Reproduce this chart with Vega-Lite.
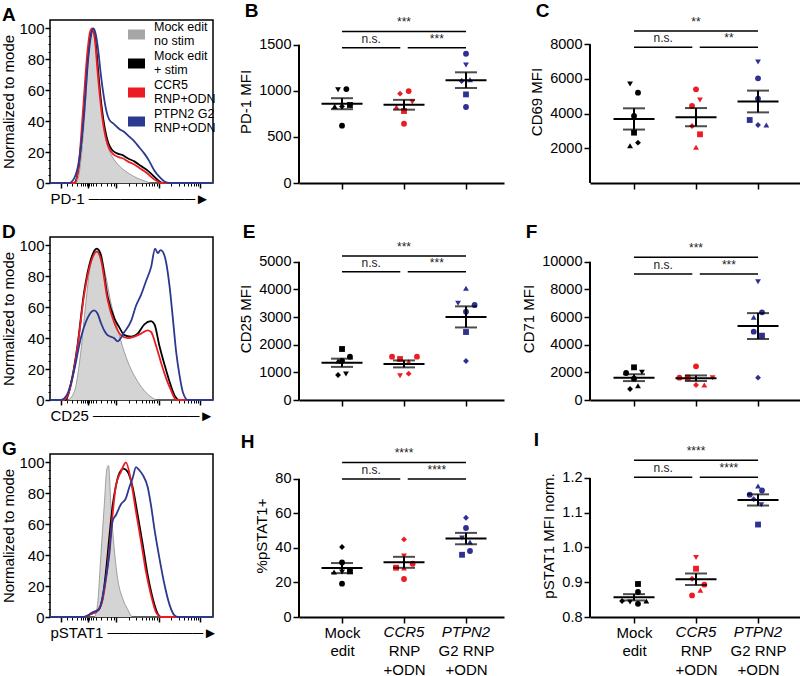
{
"$schema": "https://vega.github.io/schema/vega-lite/v6.json",
"padding": {"left": 1, "top": 1, "right": 0, "bottom": 0},
"background": "white",
"config": {
  "font": "Liberation Sans",
  "view": {"stroke": null},
  "axis": {"labelColor": "black", "titleColor": "black", "tickColor": "black", "domainColor": "black", "titleFontWeight": "normal", "grid": false, "labelFontSize": 15, "titleFontSize": 15, "labelOverlap": false},
  "title": {"anchor": "start", "frame": "bounds", "fontSize": 19, "fontWeight": "bold", "offset": -5, "color": "black"}
},
"datasets": {
  "hA": [
    {"s":"nostim","x":148,"y":0},{"s":"nostim","x":225,"y":0},{"s":"nostim","x":235,"y":6},{"s":"nostim","x":245,"y":25},{"s":"nostim","x":255,"y":55},{"s":"nostim","x":263,"y":82},{"s":"nostim","x":270,"y":96},{"s":"nostim","x":276,"y":100},{"s":"nostim","x":283,"y":93},{"s":"nostim","x":290,"y":75},{"s":"nostim","x":298,"y":55},{"s":"nostim","x":306,"y":40},{"s":"nostim","x":315,"y":28},{"s":"nostim","x":325,"y":21},{"s":"nostim","x":340,"y":15},{"s":"nostim","x":360,"y":10},{"s":"nostim","x":385,"y":6},{"s":"nostim","x":410,"y":3},{"s":"nostim","x":435,"y":1},{"s":"nostim","x":450,"y":0},{"s":"nostim","x":635,"y":0},
    {"s":"stim","x":148,"y":0},{"s":"stim","x":220,"y":0},{"s":"stim","x":232,"y":8},{"s":"stim","x":245,"y":35},{"s":"stim","x":257,"y":72},{"s":"stim","x":267,"y":93},{"s":"stim","x":276,"y":99},{"s":"stim","x":284,"y":92},{"s":"stim","x":293,"y":70},{"s":"stim","x":302,"y":50},{"s":"stim","x":312,"y":35},{"s":"stim","x":322,"y":26},{"s":"stim","x":335,"y":21},{"s":"stim","x":350,"y":19},{"s":"stim","x":365,"y":18},{"s":"stim","x":380,"y":16},{"s":"stim","x":400,"y":14},{"s":"stim","x":420,"y":11},{"s":"stim","x":440,"y":8},{"s":"stim","x":455,"y":5},{"s":"stim","x":470,"y":2},{"s":"stim","x":485,"y":0},{"s":"stim","x":635,"y":0},
    {"s":"ccr5","x":148,"y":0},{"s":"ccr5","x":222,"y":0},{"s":"ccr5","x":234,"y":12},{"s":"ccr5","x":247,"y":48},{"s":"ccr5","x":259,"y":83},{"s":"ccr5","x":268,"y":98},{"s":"ccr5","x":274,"y":100},{"s":"ccr5","x":282,"y":93},{"s":"ccr5","x":291,"y":70},{"s":"ccr5","x":300,"y":50},{"s":"ccr5","x":310,"y":34},{"s":"ccr5","x":320,"y":25},{"s":"ccr5","x":335,"y":19},{"s":"ccr5","x":350,"y":17},{"s":"ccr5","x":365,"y":16},{"s":"ccr5","x":380,"y":14},{"s":"ccr5","x":400,"y":12},{"s":"ccr5","x":420,"y":9},{"s":"ccr5","x":440,"y":6},{"s":"ccr5","x":455,"y":3},{"s":"ccr5","x":470,"y":1},{"s":"ccr5","x":480,"y":0},{"s":"ccr5","x":635,"y":0},
    {"s":"ptpn2","x":148,"y":0},{"s":"ptpn2","x":205,"y":0},{"s":"ptpn2","x":220,"y":3},{"s":"ptpn2","x":235,"y":15},{"s":"ptpn2","x":250,"y":45},{"s":"ptpn2","x":262,"y":80},{"s":"ptpn2","x":272,"y":97},{"s":"ptpn2","x":278,"y":100},{"s":"ptpn2","x":285,"y":96},{"s":"ptpn2","x":292,"y":86},{"s":"ptpn2","x":300,"y":70},{"s":"ptpn2","x":308,"y":57},{"s":"ptpn2","x":316,"y":47},{"s":"ptpn2","x":325,"y":41},{"s":"ptpn2","x":340,"y":38},{"s":"ptpn2","x":355,"y":35},{"s":"ptpn2","x":370,"y":33},{"s":"ptpn2","x":385,"y":30},{"s":"ptpn2","x":400,"y":27},{"s":"ptpn2","x":415,"y":23},{"s":"ptpn2","x":430,"y":19},{"s":"ptpn2","x":445,"y":14},{"s":"ptpn2","x":460,"y":8},{"s":"ptpn2","x":475,"y":4},{"s":"ptpn2","x":490,"y":1},{"s":"ptpn2","x":505,"y":0},{"s":"ptpn2","x":635,"y":0}
  ],
  "hD": [
    {"s":"nostim","x":148,"y":0},{"s":"nostim","x":200,"y":0},{"s":"nostim","x":220,"y":5},{"s":"nostim","x":240,"y":31},{"s":"nostim","x":255,"y":63},{"s":"nostim","x":270,"y":89},{"s":"nostim","x":285,"y":98},{"s":"nostim","x":292,"y":97},{"s":"nostim","x":300,"y":93},{"s":"nostim","x":310,"y":85},{"s":"nostim","x":330,"y":63},{"s":"nostim","x":350,"y":46},{"s":"nostim","x":370,"y":31},{"s":"nostim","x":390,"y":20},{"s":"nostim","x":410,"y":12},{"s":"nostim","x":430,"y":6},{"s":"nostim","x":450,"y":2},{"s":"nostim","x":470,"y":0},{"s":"nostim","x":635,"y":0},
    {"s":"stim","x":148,"y":0},{"s":"stim","x":195,"y":0},{"s":"stim","x":210,"y":10},{"s":"stim","x":230,"y":35},{"s":"stim","x":250,"y":70},{"s":"stim","x":270,"y":91},{"s":"stim","x":288,"y":98},{"s":"stim","x":300,"y":94},{"s":"stim","x":320,"y":67},{"s":"stim","x":340,"y":53},{"s":"stim","x":355,"y":47},{"s":"stim","x":370,"y":42},{"s":"stim","x":390,"y":41},{"s":"stim","x":410,"y":43},{"s":"stim","x":430,"y":49},{"s":"stim","x":450,"y":51},{"s":"stim","x":460,"y":49},{"s":"stim","x":475,"y":35},{"s":"stim","x":490,"y":23},{"s":"stim","x":505,"y":12},{"s":"stim","x":520,"y":3},{"s":"stim","x":535,"y":0},{"s":"stim","x":635,"y":0},
    {"s":"ccr5","x":148,"y":0},{"s":"ccr5","x":190,"y":0},{"s":"ccr5","x":210,"y":9},{"s":"ccr5","x":230,"y":34},{"s":"ccr5","x":250,"y":68},{"s":"ccr5","x":270,"y":89},{"s":"ccr5","x":288,"y":96},{"s":"ccr5","x":300,"y":91},{"s":"ccr5","x":320,"y":65},{"s":"ccr5","x":340,"y":50},{"s":"ccr5","x":360,"y":42},{"s":"ccr5","x":380,"y":40},{"s":"ccr5","x":400,"y":41},{"s":"ccr5","x":420,"y":43},{"s":"ccr5","x":440,"y":45},{"s":"ccr5","x":450,"y":44},{"s":"ccr5","x":465,"y":35},{"s":"ccr5","x":480,"y":24},{"s":"ccr5","x":495,"y":14},{"s":"ccr5","x":510,"y":6},{"s":"ccr5","x":525,"y":0},{"s":"ccr5","x":635,"y":0},
    {"s":"ptpn2","x":148,"y":0},{"s":"ptpn2","x":180,"y":0},{"s":"ptpn2","x":200,"y":4},{"s":"ptpn2","x":220,"y":19},{"s":"ptpn2","x":240,"y":40},{"s":"ptpn2","x":260,"y":53},{"s":"ptpn2","x":280,"y":58},{"s":"ptpn2","x":290,"y":56},{"s":"ptpn2","x":300,"y":50},{"s":"ptpn2","x":310,"y":45},{"s":"ptpn2","x":320,"y":42},{"s":"ptpn2","x":340,"y":40},{"s":"ptpn2","x":350,"y":38},{"s":"ptpn2","x":370,"y":44},{"s":"ptpn2","x":390,"y":51},{"s":"ptpn2","x":405,"y":61},{"s":"ptpn2","x":420,"y":68},{"s":"ptpn2","x":435,"y":77},{"s":"ptpn2","x":450,"y":86},{"s":"ptpn2","x":462,"y":98},{"s":"ptpn2","x":470,"y":95},{"s":"ptpn2","x":478,"y":97},{"s":"ptpn2","x":485,"y":96},{"s":"ptpn2","x":495,"y":89},{"s":"ptpn2","x":505,"y":74},{"s":"ptpn2","x":515,"y":53},{"s":"ptpn2","x":525,"y":31},{"s":"ptpn2","x":535,"y":16},{"s":"ptpn2","x":545,"y":5},{"s":"ptpn2","x":560,"y":0},{"s":"ptpn2","x":635,"y":0}
  ],
  "hG": [
    {"s":"nostim","x":148,"y":0},{"s":"nostim","x":280,"y":0},{"s":"nostim","x":290,"y":8},{"s":"nostim","x":300,"y":40},{"s":"nostim","x":310,"y":72},{"s":"nostim","x":318,"y":96},{"s":"nostim","x":323,"y":98},{"s":"nostim","x":330,"y":72},{"s":"nostim","x":340,"y":44},{"s":"nostim","x":350,"y":25},{"s":"nostim","x":365,"y":12},{"s":"nostim","x":380,"y":5},{"s":"nostim","x":395,"y":0},{"s":"nostim","x":635,"y":0},
    {"s":"stim","x":148,"y":0},{"s":"stim","x":250,"y":0},{"s":"stim","x":270,"y":2},{"s":"stim","x":290,"y":4},{"s":"stim","x":305,"y":12},{"s":"stim","x":315,"y":29},{"s":"stim","x":325,"y":51},{"s":"stim","x":335,"y":72},{"s":"stim","x":345,"y":85},{"s":"stim","x":355,"y":93},{"s":"stim","x":368,"y":96},{"s":"stim","x":380,"y":94},{"s":"stim","x":395,"y":84},{"s":"stim","x":410,"y":66},{"s":"stim","x":425,"y":47},{"s":"stim","x":440,"y":27},{"s":"stim","x":455,"y":12},{"s":"stim","x":470,"y":2},{"s":"stim","x":480,"y":0},{"s":"stim","x":635,"y":0},
    {"s":"ccr5","x":148,"y":0},{"s":"ccr5","x":250,"y":0},{"s":"ccr5","x":270,"y":2},{"s":"ccr5","x":290,"y":4},{"s":"ccr5","x":305,"y":11},{"s":"ccr5","x":320,"y":33},{"s":"ccr5","x":330,"y":55},{"s":"ccr5","x":345,"y":85},{"s":"ccr5","x":360,"y":94},{"s":"ccr5","x":375,"y":100},{"s":"ccr5","x":390,"y":88},{"s":"ccr5","x":405,"y":68},{"s":"ccr5","x":420,"y":49},{"s":"ccr5","x":435,"y":29},{"s":"ccr5","x":450,"y":14},{"s":"ccr5","x":465,"y":3},{"s":"ccr5","x":480,"y":0},{"s":"ccr5","x":635,"y":0},
    {"s":"ptpn2","x":148,"y":0},{"s":"ptpn2","x":250,"y":0},{"s":"ptpn2","x":275,"y":3},{"s":"ptpn2","x":295,"y":5},{"s":"ptpn2","x":310,"y":19},{"s":"ptpn2","x":325,"y":40},{"s":"ptpn2","x":335,"y":62},{"s":"ptpn2","x":345,"y":66},{"s":"ptpn2","x":360,"y":73},{"s":"ptpn2","x":375,"y":77},{"s":"ptpn2","x":385,"y":84},{"s":"ptpn2","x":395,"y":90},{"s":"ptpn2","x":405,"y":97},{"s":"ptpn2","x":415,"y":95},{"s":"ptpn2","x":425,"y":92},{"s":"ptpn2","x":440,"y":84},{"s":"ptpn2","x":450,"y":72},{"s":"ptpn2","x":460,"y":57},{"s":"ptpn2","x":475,"y":38},{"s":"ptpn2","x":490,"y":21},{"s":"ptpn2","x":505,"y":8},{"s":"ptpn2","x":520,"y":1},{"s":"ptpn2","x":530,"y":0},{"s":"ptpn2","x":635,"y":0}
  ],
  "pB": [
    {"g":1,"xp":0.936,"v":1012,"s":"d"},{"g":1,"xp":1.07,"v":1019,"s":"c"},{"g":1,"xp":0.882,"v":831,"s":"u"},{"g":1,"xp":1.0,"v":831,"s":"m"},{"g":1,"xp":1.128,"v":846,"s":"s"},{"g":1,"xp":1.0,"v":622,"s":"c"},
    {"g":2,"xp":1.936,"v":969,"s":"m"},{"g":2,"xp":2.075,"v":997,"s":"c"},{"g":2,"xp":1.877,"v":824,"s":"u"},{"g":2,"xp":2.0,"v":781,"s":"s"},{"g":2,"xp":2.134,"v":878,"s":"d"},{"g":2,"xp":2.0,"v":643,"s":"c"},
    {"g":3,"xp":3.0,"v":1402,"s":"c"},{"g":3,"xp":3.0,"v":1279,"s":"d"},{"g":3,"xp":2.93,"v":1106,"s":"m"},{"g":3,"xp":3.064,"v":1120,"s":"u"},{"g":3,"xp":3.0,"v":961,"s":"s"},{"g":3,"xp":3.0,"v":824,"s":"c"}
  ],
  "pC": [
    {"g":1,"xp":0.936,"v":5711,"s":"d"},{"g":1,"xp":1.064,"v":5211,"s":"c"},{"g":1,"xp":1.0,"v":3865,"s":"c"},{"g":1,"xp":1.0,"v":2904,"s":"s"},{"g":1,"xp":0.936,"v":2154,"s":"u"},{"g":1,"xp":1.064,"v":2327,"s":"m"},
    {"g":2,"xp":2.0,"v":5404,"s":"c"},{"g":2,"xp":2.064,"v":4788,"s":"d"},{"g":2,"xp":1.936,"v":4442,"s":"c"},{"g":2,"xp":1.936,"v":3288,"s":"m"},{"g":2,"xp":2.064,"v":2808,"s":"s"},{"g":2,"xp":2.0,"v":2058,"s":"u"},
    {"g":3,"xp":3.0,"v":6981,"s":"d"},{"g":3,"xp":3.0,"v":6038,"s":"c"},{"g":3,"xp":3.0,"v":4865,"s":"c"},{"g":3,"xp":2.866,"v":3634,"s":"s"},{"g":3,"xp":3.0,"v":3346,"s":"m"},{"g":3,"xp":3.134,"v":3346,"s":"u"}
  ],
  "pE": [
    {"g":1,"xp":1.0,"v":1844,"s":"s"},{"g":1,"xp":1.128,"v":1566,"s":"c"},{"g":1,"xp":0.936,"v":1410,"s":"u"},{"g":1,"xp":1.0,"v":1410,"s":"c"},{"g":1,"xp":0.936,"v":904,"s":"m"},{"g":1,"xp":1.064,"v":940,"s":"d"},
    {"g":2,"xp":1.807,"v":1566,"s":"c"},{"g":2,"xp":1.936,"v":1482,"s":"s"},{"g":2,"xp":2.075,"v":1386,"s":"u"},{"g":2,"xp":2.209,"v":1566,"s":"c"},{"g":2,"xp":1.936,"v":880,"s":"d"},{"g":2,"xp":2.075,"v":952,"s":"m"},
    {"g":3,"xp":3.0,"v":4037,"s":"u"},{"g":3,"xp":2.872,"v":3495,"s":"d"},{"g":3,"xp":3.139,"v":3434,"s":"c"},{"g":3,"xp":3.0,"v":3193,"s":"c"},{"g":3,"xp":3.0,"v":2458,"s":"s"},{"g":3,"xp":3.0,"v":1410,"s":"m"}
  ],
  "pF": [
    {"g":1,"xp":1.0,"v":2362,"s":"s"},{"g":1,"xp":0.872,"v":1952,"s":"c"},{"g":1,"xp":1.128,"v":2000,"s":"d"},{"g":1,"xp":1.0,"v":1545,"s":"c"},{"g":1,"xp":1.064,"v":1036,"s":"u"},{"g":1,"xp":0.936,"v":795,"s":"m"},
    {"g":2,"xp":2.0,"v":2434,"s":"c"},{"g":2,"xp":1.866,"v":1615,"s":"s"},{"g":2,"xp":1.733,"v":1615,"s":"c"},{"g":2,"xp":2.267,"v":1615,"s":"d"},{"g":2,"xp":2.0,"v":1085,"s":"m"},{"g":2,"xp":2.134,"v":1085,"s":"u"},
    {"g":3,"xp":3.0,"v":8556,"s":"d"},{"g":3,"xp":3.064,"v":6338,"s":"c"},{"g":3,"xp":2.93,"v":5977,"s":"u"},{"g":3,"xp":2.93,"v":4941,"s":"c"},{"g":3,"xp":3.064,"v":4651,"s":"s"},{"g":3,"xp":3.0,"v":1615,"s":"m"}
  ],
  "pH": [
    {"g":1,"xp":1.0,"v":40.5,"s":"m"},{"g":1,"xp":1.0,"v":31.6,"s":"c"},{"g":1,"xp":0.872,"v":26,"s":"u"},{"g":1,"xp":1.0,"v":26,"s":"d"},{"g":1,"xp":1.128,"v":26.4,"s":"s"},{"g":1,"xp":1.0,"v":19.3,"s":"c"},
    {"g":2,"xp":2.0,"v":44.9,"s":"m"},{"g":2,"xp":2.0,"v":35.3,"s":"d"},{"g":2,"xp":1.872,"v":28.5,"s":"s"},{"g":2,"xp":2.139,"v":30.8,"s":"c"},{"g":2,"xp":2.0,"v":28.3,"s":"u"},{"g":2,"xp":2.0,"v":22,"s":"c"},
    {"g":3,"xp":3.0,"v":57.4,"s":"m"},{"g":3,"xp":3.0,"v":51.5,"s":"c"},{"g":3,"xp":2.936,"v":45.7,"s":"d"},{"g":3,"xp":3.064,"v":43.4,"s":"u"},{"g":3,"xp":3.064,"v":38.2,"s":"c"},{"g":3,"xp":2.936,"v":36,"s":"s"}
  ],
  "pI": [
    {"g":1,"xp":1.064,"v":0.895,"s":"s"},{"g":1,"xp":1.064,"v":0.872,"s":"c"},{"g":1,"xp":0.807,"v":0.846,"s":"m"},{"g":1,"xp":0.936,"v":0.843,"s":"d"},{"g":1,"xp":1.064,"v":0.838,"s":"c"},{"g":1,"xp":1.198,"v":0.846,"s":"u"},
    {"g":2,"xp":2.0,"v":0.971,"s":"d"},{"g":2,"xp":2.0,"v":0.939,"s":"s"},{"g":2,"xp":1.936,"v":0.91,"s":"m"},{"g":2,"xp":2.134,"v":0.893,"s":"c"},{"g":2,"xp":2.07,"v":0.877,"s":"u"},{"g":2,"xp":1.936,"v":0.862,"s":"c"},
    {"g":3,"xp":3.0,"v":1.177,"s":"u"},{"g":3,"xp":3.064,"v":1.164,"s":"c"},{"g":3,"xp":2.866,"v":1.152,"s":"c"},{"g":3,"xp":3.053,"v":1.123,"s":"d"},{"g":3,"xp":2.93,"v":1.139,"s":"m"},{"g":3,"xp":3.0,"v":1.066,"s":"s"}
  ],
  "sB": [{"x1":1,"x2":3,"xm":2,"y":1644,"lab":"***"},{"x1":1,"x2":1.94,"xm":1.47,"y":1467,"lab":"n.s."},{"x1":2.06,"x2":3,"xm":2.53,"y":1467,"lab":"***"}],
  "sC": [{"x1":1,"x2":3,"xm":2,"y":8769,"lab":"**"},{"x1":1,"x2":1.94,"xm":1.47,"y":7827,"lab":"n.s."},{"x1":2.06,"x2":3,"xm":2.53,"y":7827,"lab":"**"}],
  "sE": [{"x1":1,"x2":3,"xm":2,"y":5206,"lab":"***"},{"x1":1,"x2":1.94,"xm":1.47,"y":4639,"lab":"n.s."},{"x1":2.06,"x2":3,"xm":2.53,"y":4639,"lab":"***"}],
  "sF": [{"x1":1,"x2":3,"xm":2,"y":10315,"lab":"***"},{"x1":1,"x2":1.94,"xm":1.47,"y":9110,"lab":"n.s."},{"x1":2.06,"x2":3,"xm":2.53,"y":9110,"lab":"***"}],
  "sH": [{"x1":1,"x2":3,"xm":2,"y":89.4,"lab":"****"},{"x1":1,"x2":1.94,"xm":1.47,"y":79.8,"lab":"n.s."},{"x1":2.06,"x2":3,"xm":2.53,"y":79.8,"lab":"****"}],
  "sI": [{"x1":1,"x2":3,"xm":2,"y":1.251,"lab":"****"},{"x1":1,"x2":1.94,"xm":1.47,"y":1.202,"lab":"n.s."},{"x1":2.06,"x2":3,"xm":2.53,"y":1.202,"lab":"****"}],
  "ital": [{"g":2,"t":"CCR5"},{"g":3,"t":"PTPN2"}]
},
"columns": 3,
"align": "each",
"bounds": "flush",
"spacing": {"row": 54, "column": 86},
"resolve": {"scale": {"color": "independent", "shape": "independent"}, "legend": {"color": "independent", "shape": "independent"}},
"concat": [
  {
    "width": 163, "height": 163, "title": "A",
    "view": {"stroke": "black", "strokeWidth": 1.5},
    "resolve": {"axis": {"x": "independent", "y": "independent"}},
    "layer": [
      {"data": {"name": "hA"}, "transform": [{"filter": "datum.s == 'nostim'"}],
       "mark": {"type": "area", "color": "#d4d4d4", "interpolate": "monotone"},
       "encoding": {
         "x": {"field": "x", "type": "quantitative", "scale": {"domain": [148, 635], "nice": false, "zero": false}, "axis": {"orient": "bottom", "values": [180, 262, 345, 473, 597], "tickCount": 50, "labels": false, "tickSize": 5, "tickWidth": 1.5, "domain": false, "title": "PD-1 ──────────►", "titleAnchor": "start", "titlePadding": 3}},
         "y": {"field": "y", "type": "quantitative", "scale": {"domain": [0, 105.5], "nice": false, "zero": false}, "axis": {"orient": "left", "values": [0, 20, 40, 60, 80, 100], "tickCount": 50, "tickSize": 5, "tickWidth": 1.5, "domain": false, "labelPadding": 1, "title": "Normalized to mode", "titlePadding": 2}}
       }},
      {"data": {"name": "hA"}, "transform": [{"filter": "datum.s == 'nostim'"}],
       "mark": {"type": "line", "color": "#8c8c8c", "strokeWidth": 0.8, "interpolate": "monotone"},
       "encoding": {
         "x": {"field": "x", "type": "quantitative", "axis": {"orient": "bottom", "values": [200, 215, 228, 240, 248, 254, 258, 266, 270, 276, 284, 300, 318, 330, 338, 384, 406, 422, 434, 445, 453, 460, 467, 510, 532, 548, 560, 570, 578, 585, 591], "tickCount": 50, "labels": false, "tickSize": 3, "tickWidth": 1, "domain": false, "title": null}},
         "y": {"field": "y", "type": "quantitative", "axis": {"orient": "left", "values": [5, 10, 15, 25, 30, 35, 45, 50, 55, 65, 70, 75, 85, 90, 95], "tickCount": 50, "labels": false, "tickSize": 2, "tickWidth": 1, "domain": false, "title": null}}
       }},
      {"data": {"name": "hA"}, "transform": [{"filter": "datum.s != 'nostim'"}],
       "mark": {"type": "line", "strokeWidth": 1.8, "interpolate": "monotone"},
       "encoding": {
         "x": {"field": "x", "type": "quantitative", "axis": null},
         "y": {"field": "y", "type": "quantitative", "axis": null},
         "color": {"field": "s", "type": "nominal", "scale": {"domain": ["nostim", "stim", "ccr5", "ptpn2"], "range": ["#a6a6a6", "#000000", "#ed1c24", "#2b3990"]},
           "legend": {"orient": "none", "legendX": 73, "legendY": 0, "title": null, "symbolType": "M-1,0L1,0", "symbolSize": 289, "symbolStrokeWidth": 10, "labelFontSize": 12.5, "labelOffset": 4, "labelLimit": 200, "rowPadding": 0, "clipHeight": 29, "padding": 0, "labelColor": "black", "labelBaseline": "line-bottom",
             "labelExpr": "datum.value == 'nostim' ? ['Mock edit', 'no stim'] : datum.value == 'stim' ? ['Mock edit', '+ stim'] : datum.value == 'ccr5' ? ['CCR5', 'RNP+ODN'] : ['PTPN2 G2', 'RNP+ODN']"}}
       }}
    ]
  },
  {
    "width": 205, "height": 163, "title": {"text": "B", "dx": 6},
    "layer": [
      {"data": {"name": "pB"}, "mark": {"type": "point", "filled": true, "opacity": 1, "size": 34},
       "encoding": {
         "x": {"field": "xp", "type": "quantitative", "scale": {"domain": [0.306, 3.613], "nice": false, "zero": false}, "axis": {"values": [1, 2, 3], "tickCount": 20, "labels": false, "tickSize": 6, "tickWidth": 1.5, "domainWidth": 2, "title": null}},
         "y": {"field": "v", "type": "quantitative", "title": "PD-1 MFI", "scale": {"domain": [0, 1768], "nice": false, "zero": false}, "axis": {"values": [0, 500, 1000, 1500], "tickCount": 20, "format": "d", "labelFontSize": 14.5, "domain": false, "tickSize": 6, "tickWidth": 1.5, "labelPadding": 2, "titlePadding": 5}},
         "color": {"field": "g", "type": "nominal", "scale": {"domain": [1, 2, 3], "range": ["#000000", "#ed1c24", "#2e3192"]}, "legend": null},
         "shape": {"field": "s", "type": "nominal", "scale": {"domain": ["c", "s", "u", "d", "m"], "range": ["circle", "square", "triangle-up", "triangle-down", "diamond"]}, "legend": null}
       }},
      {"data": {"values": [{}]}, "mark": {"type": "rule", "strokeWidth": 2, "color": "black"},
       "encoding": {"x": {"datum": 0.306, "type": "quantitative", "title": null}, "y": {"datum": 0, "type": "quantitative", "title": "PD-1 MFI"}, "y2": {"datum": 1500}}},
      {"data": {"name": "pB"}, "mark": {"type": "errorbar", "extent": "stderr", "orient": "vertical", "ticks": {"size": 22, "thickness": 2, "color": "black"}, "rule": {"strokeWidth": 2, "color": "black"}},
       "encoding": {"x": {"field": "g", "type": "quantitative", "title": null}, "y": {"field": "v", "type": "quantitative", "title": "PD-1 MFI"}}},
      {"data": {"name": "pB"}, "mark": {"type": "point", "shape": "M-1,0L1,0", "size": 1681, "strokeWidth": 2, "color": "black", "filled": false, "opacity": 1},
       "encoding": {"x": {"field": "g", "type": "quantitative", "title": null}, "y": {"aggregate": "mean", "field": "v", "type": "quantitative", "title": "PD-1 MFI"}}},
      {"data": {"name": "sB"}, "mark": {"type": "rule", "strokeWidth": 1.5, "color": "black"},
       "encoding": {"x": {"field": "x1", "type": "quantitative", "title": null}, "x2": {"field": "x2"}, "y": {"field": "y", "type": "quantitative", "title": "PD-1 MFI"}}},
      {"data": {"name": "sB"}, "mark": {"type": "text", "baseline": "bottom", "dy": -2, "fontSize": 12, "color": "#222222"},
       "encoding": {"x": {"field": "xm", "type": "quantitative", "title": null}, "y": {"field": "y", "type": "quantitative", "title": "PD-1 MFI"}, "text": {"field": "lab"}}}
    ]
  },
  {
    "width": 210, "height": 163, "title": {"text": "C", "dx": 6},
    "layer": [
      {"data": {"name": "pC"}, "mark": {"type": "point", "filled": true, "opacity": 1, "size": 34},
       "encoding": {
         "x": {"field": "xp", "type": "quantitative", "scale": {"domain": [0.29, 3.677], "nice": false, "zero": false}, "axis": {"values": [1, 2, 3], "tickCount": 20, "labels": false, "tickSize": 6, "tickWidth": 1.5, "domainWidth": 2, "title": null}},
         "y": {"field": "v", "type": "quantitative", "title": "CD69 MFI", "scale": {"domain": [0, 9402], "nice": false, "zero": false}, "axis": {"values": [2000, 4000, 6000, 8000], "tickCount": 20, "format": "d", "labelFontSize": 14.5, "domain": false, "tickSize": 6, "tickWidth": 1.5, "labelPadding": 2, "titlePadding": 5}},
         "color": {"field": "g", "type": "nominal", "scale": {"domain": [1, 2, 3], "range": ["#000000", "#ed1c24", "#2e3192"]}, "legend": null},
         "shape": {"field": "s", "type": "nominal", "scale": {"domain": ["c", "s", "u", "d", "m"], "range": ["circle", "square", "triangle-up", "triangle-down", "diamond"]}, "legend": null}
       }},
      {"data": {"values": [{}]}, "mark": {"type": "rule", "strokeWidth": 2, "color": "black"},
       "encoding": {"x": {"datum": 0.29, "type": "quantitative", "title": null}, "y": {"datum": 0, "type": "quantitative", "title": "CD69 MFI"}, "y2": {"datum": 8000}}},
      {"data": {"name": "pC"}, "mark": {"type": "errorbar", "extent": "stderr", "orient": "vertical", "ticks": {"size": 22, "thickness": 2, "color": "black"}, "rule": {"strokeWidth": 2, "color": "black"}},
       "encoding": {"x": {"field": "g", "type": "quantitative", "title": null}, "y": {"field": "v", "type": "quantitative", "title": "CD69 MFI"}}},
      {"data": {"name": "pC"}, "mark": {"type": "point", "shape": "M-1,0L1,0", "size": 1681, "strokeWidth": 2, "color": "black", "filled": false, "opacity": 1},
       "encoding": {"x": {"field": "g", "type": "quantitative", "title": null}, "y": {"aggregate": "mean", "field": "v", "type": "quantitative", "title": "CD69 MFI"}}},
      {"data": {"name": "sC"}, "mark": {"type": "rule", "strokeWidth": 1.5, "color": "black"},
       "encoding": {"x": {"field": "x1", "type": "quantitative", "title": null}, "x2": {"field": "x2"}, "y": {"field": "y", "type": "quantitative", "title": "CD69 MFI"}}},
      {"data": {"name": "sC"}, "mark": {"type": "text", "baseline": "bottom", "dy": -2, "fontSize": 12, "color": "#222222"},
       "encoding": {"x": {"field": "xm", "type": "quantitative", "title": null}, "y": {"field": "y", "type": "quantitative", "title": "CD69 MFI"}, "text": {"field": "lab"}}}
    ]
  },
  {
    "width": 163, "height": 163, "title": "D",
    "view": {"stroke": "black", "strokeWidth": 1.5},
    "resolve": {"axis": {"x": "independent", "y": "independent"}},
    "layer": [
      {"data": {"name": "hD"}, "transform": [{"filter": "datum.s == 'nostim'"}],
       "mark": {"type": "area", "color": "#d4d4d4", "interpolate": "monotone"},
       "encoding": {
         "x": {"field": "x", "type": "quantitative", "scale": {"domain": [148, 635], "nice": false, "zero": false}, "axis": {"orient": "bottom", "values": [180, 262, 345, 473, 597], "tickCount": 50, "labels": false, "tickSize": 5, "tickWidth": 1.5, "domain": false, "title": "CD25 ──────────►", "titleAnchor": "start", "titlePadding": 3}},
         "y": {"field": "y", "type": "quantitative", "scale": {"domain": [0, 105.5], "nice": false, "zero": false}, "axis": {"orient": "left", "values": [0, 20, 40, 60, 80, 100], "tickCount": 50, "tickSize": 5, "tickWidth": 1.5, "domain": false, "labelPadding": 1, "title": "Normalized to mode", "titlePadding": 2}}
       }},
      {"data": {"name": "hD"}, "transform": [{"filter": "datum.s == 'nostim'"}],
       "mark": {"type": "line", "color": "#8c8c8c", "strokeWidth": 0.8, "interpolate": "monotone"},
       "encoding": {
         "x": {"field": "x", "type": "quantitative", "axis": {"orient": "bottom", "values": [200, 215, 228, 240, 248, 254, 258, 266, 270, 276, 284, 300, 318, 330, 338, 384, 406, 422, 434, 445, 453, 460, 467, 510, 532, 548, 560, 570, 578, 585, 591], "tickCount": 50, "labels": false, "tickSize": 3, "tickWidth": 1, "domain": false, "title": null}},
         "y": {"field": "y", "type": "quantitative", "axis": {"orient": "left", "values": [5, 10, 15, 25, 30, 35, 45, 50, 55, 65, 70, 75, 85, 90, 95], "tickCount": 50, "labels": false, "tickSize": 2, "tickWidth": 1, "domain": false, "title": null}}
       }},
      {"data": {"name": "hD"}, "transform": [{"filter": "datum.s != 'nostim'"}],
       "mark": {"type": "line", "strokeWidth": 1.8, "interpolate": "monotone"},
       "encoding": {
         "x": {"field": "x", "type": "quantitative", "axis": null},
         "y": {"field": "y", "type": "quantitative", "axis": null},
         "color": {"field": "s", "type": "nominal", "scale": {"domain": ["nostim", "stim", "ccr5", "ptpn2"], "range": ["#a6a6a6", "#000000", "#ed1c24", "#2b3990"]}, "legend": null}
       }}
    ]
  },
  {
    "width": 205, "height": 163, "title": {"text": "E", "dx": 4},
    "layer": [
      {"data": {"name": "pE"}, "mark": {"type": "point", "filled": true, "opacity": 1, "size": 34},
       "encoding": {
         "x": {"field": "xp", "type": "quantitative", "scale": {"domain": [0.306, 3.613], "nice": false, "zero": false}, "axis": {"values": [1, 2, 3], "tickCount": 20, "labels": false, "tickSize": 6, "tickWidth": 1.5, "domainWidth": 2, "title": null}},
         "y": {"field": "v", "type": "quantitative", "title": "CD25 MFI", "scale": {"domain": [0, 5893], "nice": false, "zero": false}, "axis": {"values": [0, 1000, 2000, 3000, 4000, 5000], "tickCount": 20, "format": "d", "labelFontSize": 14.5, "domain": false, "tickSize": 6, "tickWidth": 1.5, "labelPadding": 2, "titlePadding": 5}},
         "color": {"field": "g", "type": "nominal", "scale": {"domain": [1, 2, 3], "range": ["#000000", "#ed1c24", "#2e3192"]}, "legend": null},
         "shape": {"field": "s", "type": "nominal", "scale": {"domain": ["c", "s", "u", "d", "m"], "range": ["circle", "square", "triangle-up", "triangle-down", "diamond"]}, "legend": null}
       }},
      {"data": {"values": [{}]}, "mark": {"type": "rule", "strokeWidth": 2, "color": "black"},
       "encoding": {"x": {"datum": 0.306, "type": "quantitative", "title": null}, "y": {"datum": 0, "type": "quantitative", "title": "CD25 MFI"}, "y2": {"datum": 5000}}},
      {"data": {"name": "pE"}, "mark": {"type": "errorbar", "extent": "stderr", "orient": "vertical", "ticks": {"size": 22, "thickness": 2, "color": "black"}, "rule": {"strokeWidth": 2, "color": "black"}},
       "encoding": {"x": {"field": "g", "type": "quantitative", "title": null}, "y": {"field": "v", "type": "quantitative", "title": "CD25 MFI"}}},
      {"data": {"name": "pE"}, "mark": {"type": "point", "shape": "M-1,0L1,0", "size": 1681, "strokeWidth": 2, "color": "black", "filled": false, "opacity": 1},
       "encoding": {"x": {"field": "g", "type": "quantitative", "title": null}, "y": {"aggregate": "mean", "field": "v", "type": "quantitative", "title": "CD25 MFI"}}},
      {"data": {"name": "sE"}, "mark": {"type": "rule", "strokeWidth": 1.5, "color": "black"},
       "encoding": {"x": {"field": "x1", "type": "quantitative", "title": null}, "x2": {"field": "x2"}, "y": {"field": "y", "type": "quantitative", "title": "CD25 MFI"}}},
      {"data": {"name": "sE"}, "mark": {"type": "text", "baseline": "bottom", "dy": -2, "fontSize": 12, "color": "#222222"},
       "encoding": {"x": {"field": "xm", "type": "quantitative", "title": null}, "y": {"field": "y", "type": "quantitative", "title": "CD25 MFI"}, "text": {"field": "lab"}}}
    ]
  },
  {
    "width": 210, "height": 163, "title": {"text": "F", "dx": 4},
    "layer": [
      {"data": {"name": "pF"}, "mark": {"type": "point", "filled": true, "opacity": 1, "size": 34},
       "encoding": {
         "x": {"field": "xp", "type": "quantitative", "scale": {"domain": [0.29, 3.677], "nice": false, "zero": false}, "axis": {"values": [1, 2, 3], "tickCount": 20, "labels": false, "tickSize": 6, "tickWidth": 1.5, "domainWidth": 2, "title": null}},
         "y": {"field": "v", "type": "quantitative", "title": "CD71 MFI", "scale": {"domain": [0, 11786], "nice": false, "zero": false}, "axis": {"values": [0, 2000, 4000, 6000, 8000, 10000], "tickCount": 20, "format": "d", "labelFontSize": 14.5, "domain": false, "tickSize": 6, "tickWidth": 1.5, "labelPadding": 2, "titlePadding": 5}},
         "color": {"field": "g", "type": "nominal", "scale": {"domain": [1, 2, 3], "range": ["#000000", "#ed1c24", "#2e3192"]}, "legend": null},
         "shape": {"field": "s", "type": "nominal", "scale": {"domain": ["c", "s", "u", "d", "m"], "range": ["circle", "square", "triangle-up", "triangle-down", "diamond"]}, "legend": null}
       }},
      {"data": {"values": [{}]}, "mark": {"type": "rule", "strokeWidth": 2, "color": "black"},
       "encoding": {"x": {"datum": 0.29, "type": "quantitative", "title": null}, "y": {"datum": 0, "type": "quantitative", "title": "CD71 MFI"}, "y2": {"datum": 10000}}},
      {"data": {"name": "pF"}, "mark": {"type": "errorbar", "extent": "stderr", "orient": "vertical", "ticks": {"size": 22, "thickness": 2, "color": "black"}, "rule": {"strokeWidth": 2, "color": "black"}},
       "encoding": {"x": {"field": "g", "type": "quantitative", "title": null}, "y": {"field": "v", "type": "quantitative", "title": "CD71 MFI"}}},
      {"data": {"name": "pF"}, "mark": {"type": "point", "shape": "M-1,0L1,0", "size": 1681, "strokeWidth": 2, "color": "black", "filled": false, "opacity": 1},
       "encoding": {"x": {"field": "g", "type": "quantitative", "title": null}, "y": {"aggregate": "mean", "field": "v", "type": "quantitative", "title": "CD71 MFI"}}},
      {"data": {"name": "sF"}, "mark": {"type": "rule", "strokeWidth": 1.5, "color": "black"},
       "encoding": {"x": {"field": "x1", "type": "quantitative", "title": null}, "x2": {"field": "x2"}, "y": {"field": "y", "type": "quantitative", "title": "CD71 MFI"}}},
      {"data": {"name": "sF"}, "mark": {"type": "text", "baseline": "bottom", "dy": -2, "fontSize": 12, "color": "#222222"},
       "encoding": {"x": {"field": "xm", "type": "quantitative", "title": null}, "y": {"field": "y", "type": "quantitative", "title": "CD71 MFI"}, "text": {"field": "lab"}}}
    ]
  },
  {
    "width": 163, "height": 163, "title": "G",
    "view": {"stroke": "black", "strokeWidth": 1.5},
    "resolve": {"axis": {"x": "independent", "y": "independent"}},
    "layer": [
      {"data": {"name": "hG"}, "transform": [{"filter": "datum.s == 'nostim'"}],
       "mark": {"type": "area", "color": "#d4d4d4", "interpolate": "monotone"},
       "encoding": {
         "x": {"field": "x", "type": "quantitative", "scale": {"domain": [148, 635], "nice": false, "zero": false}, "axis": {"orient": "bottom", "values": [180, 262, 345, 473, 597], "tickCount": 50, "labels": false, "tickSize": 5, "tickWidth": 1.5, "domain": false, "title": "pSTAT1 ─────────►", "titleAnchor": "start", "titlePadding": 3}},
         "y": {"field": "y", "type": "quantitative", "scale": {"domain": [0, 105.5], "nice": false, "zero": false}, "axis": {"orient": "left", "values": [0, 20, 40, 60, 80, 100], "tickCount": 50, "tickSize": 5, "tickWidth": 1.5, "domain": false, "labelPadding": 1, "title": "Normalized to mode", "titlePadding": 2}}
       }},
      {"data": {"name": "hG"}, "transform": [{"filter": "datum.s == 'nostim'"}],
       "mark": {"type": "line", "color": "#8c8c8c", "strokeWidth": 0.8, "interpolate": "monotone"},
       "encoding": {
         "x": {"field": "x", "type": "quantitative", "axis": {"orient": "bottom", "values": [200, 215, 228, 240, 248, 254, 258, 266, 270, 276, 284, 300, 318, 330, 338, 384, 406, 422, 434, 445, 453, 460, 467, 510, 532, 548, 560, 570, 578, 585, 591], "tickCount": 50, "labels": false, "tickSize": 3, "tickWidth": 1, "domain": false, "title": null}},
         "y": {"field": "y", "type": "quantitative", "axis": {"orient": "left", "values": [5, 10, 15, 25, 30, 35, 45, 50, 55, 65, 70, 75, 85, 90, 95], "tickCount": 50, "labels": false, "tickSize": 2, "tickWidth": 1, "domain": false, "title": null}}
       }},
      {"data": {"name": "hG"}, "transform": [{"filter": "datum.s != 'nostim'"}],
       "mark": {"type": "line", "strokeWidth": 1.8, "interpolate": "monotone"},
       "encoding": {
         "x": {"field": "x", "type": "quantitative", "axis": null},
         "y": {"field": "y", "type": "quantitative", "axis": null},
         "color": {"field": "s", "type": "nominal", "scale": {"domain": ["nostim", "stim", "ccr5", "ptpn2"], "range": ["#a6a6a6", "#000000", "#ed1c24", "#2b3990"]}, "legend": null}
       }}
    ]
  },
  {
    "width": 205, "height": 163, "title": {"text": "H", "dx": -14},
    "layer": [
      {"data": {"name": "pH"}, "mark": {"type": "point", "filled": true, "opacity": 1, "size": 34},
       "encoding": {
         "x": {"field": "xp", "type": "quantitative", "scale": {"domain": [0.306, 3.613], "nice": false, "zero": false}, "axis": {"values": [1, 2, 3], "tickCount": 20, "tickSize": 6, "tickWidth": 1.5, "domainWidth": 2, "title": null, "labelPadding": 2, "labelLineHeight": 18.5, "labelBaseline": "top", "labelFlush": false,
           "labelExpr": "datum.value == 1 ? ['Mock', 'edit'] : datum.value == 2 ? [' ', 'RNP', '+ODN'] : [' ', 'G2 RNP', '+ODN']"}},
         "y": {"field": "v", "type": "quantitative", "title": "%pSTAT1+", "scale": {"domain": [0, 94.3], "nice": false, "zero": false}, "axis": {"values": [0, 20, 40, 60, 80], "tickCount": 20, "format": "d", "labelFontSize": 14.5, "domain": false, "tickSize": 6, "tickWidth": 1.5, "labelPadding": 2, "titlePadding": 5}},
         "color": {"field": "g", "type": "nominal", "scale": {"domain": [1, 2, 3], "range": ["#000000", "#ed1c24", "#2e3192"]}, "legend": null},
         "shape": {"field": "s", "type": "nominal", "scale": {"domain": ["c", "s", "u", "d", "m"], "range": ["circle", "square", "triangle-up", "triangle-down", "diamond"]}, "legend": null}
       }},
      {"data": {"values": [{}]}, "mark": {"type": "rule", "strokeWidth": 2, "color": "black"},
       "encoding": {"x": {"datum": 0.306, "type": "quantitative", "title": null}, "y": {"datum": 0, "type": "quantitative", "title": "%pSTAT1+"}, "y2": {"datum": 80}}},
      {"data": {"name": "pH"}, "mark": {"type": "errorbar", "extent": "stderr", "orient": "vertical", "ticks": {"size": 22, "thickness": 2, "color": "black"}, "rule": {"strokeWidth": 2, "color": "black"}},
       "encoding": {"x": {"field": "g", "type": "quantitative", "title": null}, "y": {"field": "v", "type": "quantitative", "title": "%pSTAT1+"}}},
      {"data": {"name": "pH"}, "mark": {"type": "point", "shape": "M-1,0L1,0", "size": 1681, "strokeWidth": 2, "color": "black", "filled": false, "opacity": 1},
       "encoding": {"x": {"field": "g", "type": "quantitative", "title": null}, "y": {"aggregate": "mean", "field": "v", "type": "quantitative", "title": "%pSTAT1+"}}},
      {"data": {"name": "sH"}, "mark": {"type": "rule", "strokeWidth": 1.5, "color": "black"},
       "encoding": {"x": {"field": "x1", "type": "quantitative", "title": null}, "x2": {"field": "x2"}, "y": {"field": "y", "type": "quantitative", "title": "%pSTAT1+"}}},
      {"data": {"name": "sH"}, "mark": {"type": "text", "baseline": "bottom", "dy": -2, "fontSize": 12, "color": "#222222"},
       "encoding": {"x": {"field": "xm", "type": "quantitative", "title": null}, "y": {"field": "y", "type": "quantitative", "title": "%pSTAT1+"}, "text": {"field": "lab"}}},
      {"data": {"name": "ital"}, "mark": {"type": "text", "baseline": "top", "dy": 8, "fontSize": 15, "fontStyle": "italic", "color": "black"},
       "encoding": {"x": {"field": "g", "type": "quantitative", "title": null}, "y": {"datum": 0, "type": "quantitative", "title": "%pSTAT1+"}, "text": {"field": "t"}}}
    ]
  },
  {
    "width": 210, "height": 163, "title": {"text": "I", "dx": -8},
    "layer": [
      {"data": {"name": "pI"}, "mark": {"type": "point", "filled": true, "opacity": 1, "size": 34},
       "encoding": {
         "x": {"field": "xp", "type": "quantitative", "scale": {"domain": [0.29, 3.677], "nice": false, "zero": false}, "axis": {"values": [1, 2, 3], "tickCount": 20, "tickSize": 6, "tickWidth": 1.5, "domainWidth": 2, "title": null, "labelPadding": 2, "labelLineHeight": 18.5, "labelBaseline": "top", "labelFlush": false,
           "labelExpr": "datum.value == 1 ? ['Mock', 'edit'] : datum.value == 2 ? [' ', 'RNP', '+ODN'] : [' ', 'G2 RNP', '+ODN']"}},
         "y": {"field": "v", "type": "quantitative", "title": "pSTAT1 MFI norm.", "scale": {"domain": [0.8, 1.269], "nice": false, "zero": false}, "axis": {"values": [0.8, 0.9, 1.0, 1.1, 1.2], "tickCount": 20, "format": ".1f", "labelFontSize": 14.5, "domain": false, "tickSize": 6, "tickWidth": 1.5, "labelPadding": 2, "titlePadding": 5}},
         "color": {"field": "g", "type": "nominal", "scale": {"domain": [1, 2, 3], "range": ["#000000", "#ed1c24", "#2e3192"]}, "legend": null},
         "shape": {"field": "s", "type": "nominal", "scale": {"domain": ["c", "s", "u", "d", "m"], "range": ["circle", "square", "triangle-up", "triangle-down", "diamond"]}, "legend": null}
       }},
      {"data": {"values": [{}]}, "mark": {"type": "rule", "strokeWidth": 2, "color": "black"},
       "encoding": {"x": {"datum": 0.29, "type": "quantitative", "title": null}, "y": {"datum": 0.8, "type": "quantitative", "title": "pSTAT1 MFI norm."}, "y2": {"datum": 1.2}}},
      {"data": {"name": "pI"}, "mark": {"type": "errorbar", "extent": "stderr", "orient": "vertical", "ticks": {"size": 22, "thickness": 2, "color": "black"}, "rule": {"strokeWidth": 2, "color": "black"}},
       "encoding": {"x": {"field": "g", "type": "quantitative", "title": null}, "y": {"field": "v", "type": "quantitative", "title": "pSTAT1 MFI norm."}}},
      {"data": {"name": "pI"}, "mark": {"type": "point", "shape": "M-1,0L1,0", "size": 1681, "strokeWidth": 2, "color": "black", "filled": false, "opacity": 1},
       "encoding": {"x": {"field": "g", "type": "quantitative", "title": null}, "y": {"aggregate": "mean", "field": "v", "type": "quantitative", "title": "pSTAT1 MFI norm."}}},
      {"data": {"name": "sI"}, "mark": {"type": "rule", "strokeWidth": 1.5, "color": "black"},
       "encoding": {"x": {"field": "x1", "type": "quantitative", "title": null}, "x2": {"field": "x2"}, "y": {"field": "y", "type": "quantitative", "title": "pSTAT1 MFI norm."}}},
      {"data": {"name": "sI"}, "mark": {"type": "text", "baseline": "bottom", "dy": -2, "fontSize": 12, "color": "#222222"},
       "encoding": {"x": {"field": "xm", "type": "quantitative", "title": null}, "y": {"field": "y", "type": "quantitative", "title": "pSTAT1 MFI norm."}, "text": {"field": "lab"}}},
      {"data": {"name": "ital"}, "mark": {"type": "text", "baseline": "top", "dy": 8, "fontSize": 15, "fontStyle": "italic", "color": "black"},
       "encoding": {"x": {"field": "g", "type": "quantitative", "title": null}, "y": {"datum": 0.8, "type": "quantitative", "title": "pSTAT1 MFI norm."}, "text": {"field": "t"}}}
    ]
  }
]
}
